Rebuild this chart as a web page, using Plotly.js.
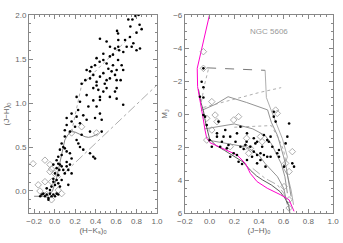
<!DOCTYPE html>
<html><head><meta charset="utf-8">
<script src="https://cdn.plot.ly/plotly-3.0.1.min.js"></script>
<style>html,body{margin:0;padding:0;background:#fff}#c{width:343px;height:243px}</style>
</head><body><div id="c"></div>
<script>
// ---- Left panel: (H-Ks)0 vs (J-H)0 ----
const ccStarsX = [0.79,0.82,0.76,0.83,0.85,0.80,0.61,0.62,0.72,0.74,
0.622,0.622,0.63,0.508,0.541,0.443,0.59,0.769,0.753,0.704,0.688,0.736,0.671,0.80,0.834,
0.41,0.44,0.476,0.508,0.54,0.57,0.62,0.655,0.36,0.395,0.525,0.606,0.67,0.57,0.476,
0.313,0.346,0.378,0.443,0.476,0.508,0.54,0.59,0.606,0.41,0.49,0.30,0.41,0.557,0.346,0.645,
0.264,0.378,0.427,0.476,0.508,0.606,0.59,0.443,0.313,0.215,0.378,0.54,0.606,0.248,0.443,
0.33,0.41,0.67,0.23,0.166,0.28,0.443,0.215,0.118,0.313,0.395,
0.166,0.118,0.248,0.46,0.10,0.15,0.20,0.10,0.215,0.264,0.346,0.46,
0.069,0.085,0.052,0.10,0.118,0.069,0.036,0.248,0.28,0.346,0.378,0.395,0.232,0.15,0.166,
0.02,0.036,0.052,0.069,0.02,0.046,0.085,0.118,0.134,0.15,0.10,0.004,0.036,0.166,-0.012,0.118,
-0.012,0.02,0.036,0.004,-0.03,0.052,0.134,-0.077,-0.045,0.069,-0.012,
-0.11,-0.094,-0.077,-0.06,-0.045,-0.03,-0.012,0.004,0.02,0.036,-0.126,-0.14,-0.06];
const ccStarsY = [1.99,2.0,1.95,1.89,1.84,1.80,1.82,1.79,1.95,1.87,
1.716,1.64,1.60,1.70,1.64,1.73,1.62,1.68,1.64,1.64,1.716,1.75,1.58,1.60,1.62,
1.51,1.47,1.49,1.45,1.53,1.43,1.49,1.43,1.41,1.43,1.39,1.375,1.375,1.55,1.56,
1.375,1.36,1.32,1.30,1.34,1.26,1.28,1.32,1.26,1.24,1.22,1.26,1.20,1.36,1.28,1.26,
1.22,1.17,1.15,1.13,1.17,1.17,1.13,1.07,1.09,1.07,1.03,1.07,1.05,1.015,1.035,
0.96,0.96,0.98,0.92,0.88,0.86,0.88,0.845,0.83,0.81,0.83,
0.79,0.75,0.77,0.81,0.69,0.675,0.73,0.62,0.58,0.64,0.675,0.675,
0.54,0.50,0.47,0.485,0.45,0.41,0.39,0.50,0.47,0.43,0.39,0.37,0.54,0.43,0.37,
0.35,0.31,0.30,0.28,0.26,0.24,0.24,0.28,0.24,0.30,0.20,0.20,0.18,0.20,0.30,0.33,
0.14,0.125,0.087,0.068,0.05,0.05,0.07,0.03,0.01,0.125,0.106,
-0.03,-0.06,-0.04,-0.08,-0.03,-0.06,-0.04,-0.06,-0.03,-0.04,-0.04,-0.06,-0.10];
const ccDiamX = [-0.21,-0.094,-0.045,-0.045,-0.16,-0.094,-0.03,-0.143,-0.077,0.036,0.069,-0.03,0.41,0.264,0.166,-0.03,0.0];
const ccDiamY = [0.31,0.35,0.30,0.22,0.07,0.106,0.106,0.0,-0.04,0.01,-0.03,-0.10,0.66,0.73,0.66,0.25,0.20];
const ccIsoX = [-0.20,-0.12,-0.06,-0.02,0.02,0.05,0.08,0.10,0.13,0.166,0.20,0.23,0.26,0.297,0.33,0.362,0.40,0.427];
const ccIsoY = [-0.06,-0.06,-0.05,0.0,0.15,0.30,0.45,0.58,0.64,0.674,0.67,0.655,0.635,0.617,0.61,0.617,0.635,0.655];
const ccRedGX = [0.166,0.264,0.769];   // dotted reddening line (giants)
const ccRedGY = [0.674,1.205,1.79];
const ccRedDX = [-0.045,1.0];          // dash-dot reddening line
const ccRedDY = [0.05,1.205];

// ---- Right panel: (J-H)0 vs M_J ----
const cmdStarsX = [-0.064,-0.05,-0.078,-0.05,-0.05,-0.037,0.072,0.127,0.222,0.25,0.06,0.0,0.167,0.21,0.25,0.29,0.30,0.276,0.33,0.371,
0.358,0.385,0.412,0.44,0.467,0.344,0.412,0.303,0.235,0.263,0.385,0.453,0.494,0.508,0.467,0.44,0.494,0.48,0.548,0.562,
0.535,0.52,0.52,0.644,0.63,0.616,0.67,0.684,0.018,0.086,0.14,0.153,0.195,0.222,0.167,0.303,0.358,0.385,0.426,0.113,
0.10,0.06,-0.023,-0.05,0.562,0.603];
const cmdStarsY = [-1.96,-1.62,-1.05,-1.0,0.06,0.16,0.46,0.97,1.17,0.77,1.37,1.58,1.37,1.68,1.98,1.88,1.68,2.12,1.98,1.78,
2.28,2.48,2.38,2.48,2.59,2.59,2.79,2.79,2.89,3.03,2.99,3.19,2.59,1.98,1.58,1.27,1.37,1.68,2.38,2.18,
0.46,0.16,-0.14,0.57,1.37,1.78,2.99,3.19,1.98,1.98,2.08,1.88,2.38,2.48,2.59,1.17,1.47,1.68,1.98,1.37,
1.68,1.17,0.67,-2.77,2.59,3.19];
const cmdDiamX = [-0.05,-0.05,0.018,-0.023,0.045,0.06,0.195,0.235,0.30,0.412,0.167,0.29,0.426,0.317,0.33,0.535,0.548,0.67,0.616,0.644,0.603,0.644,0.644,-0.023,0.018];
const cmdDiamY = [-3.78,-2.77,-0.75,0.26,0.06,0.46,0.36,0.16,1.47,1.37,1.98,1.98,1.68,2.38,2.08,-0.24,-0.04,2.28,2.99,3.49,4.4,5.2,5.7,1.58,0.97];
const zamsX = [-0.001,-0.023,-0.05,-0.078,-0.10,-0.097,-0.078,-0.056,-0.05,-0.037,-0.023,0.004,0.072,0.222,0.29,0.33,0.385,0.467,0.576,0.644,0.684];
const zamsY = [-6,-5.29,-4.48,-3.58,-2.77,-1.66,-0.85,-0.14,0.36,0.97,1.47,1.74,1.98,2.48,2.99,3.6,4.1,4.5,4.9,5.2,5.9];
const isoMainX = [-0.09,-0.07,-0.05,-0.03,0.0,0.05,0.12,0.2,0.27,0.33,0.38,0.43,0.5,0.57,0.61,0.64,0.65];
const isoMainY = [-1.5,-0.7,-0.2,0.6,1.5,1.9,2.2,2.55,2.9,3.4,3.75,4.0,4.3,4.7,5.1,5.5,6.0];
const iso1aX = [-0.02,0.45];  const iso1aY = [-2.8,-2.65];
const iso1bX = [0.45,0.46,0.5,0.55,0.59,0.63,0.61,0.6,0.63,0.66,0.68];
const iso1bY = [-2.65,-1.0,-0.2,0.7,1.5,2.6,3.0,3.3,3.7,4.6,5.5];
const iso2X = [-0.01,-0.04,-0.07]; const iso2Y = [-2.7,-1.8,-0.6];
const iso3X = [-0.07,0.05,0.15,0.3,0.47,0.5,0.55,0.58,0.6,0.62,0.64,0.66];
const iso3Y = [-0.2,-0.6,-1.05,-0.7,-0.25,0.5,1.3,2.0,2.6,3.2,4.0,5.0];
const iso4X = [-0.05,0.1,0.25,0.4,0.58]; const iso4Y = [-0.4,-0.7,-1.0,-1.3,-1.6];
const iso5X = [0.2,0.35,0.5,0.56,0.6,0.62]; const iso5Y = [0.8,0.75,0.7,1.5,2.2,3.0];
const iso6X = [-0.04,0.05,0.2,0.35,0.45,0.5,0.55,0.58,0.61,0.63];
const iso6Y = [0.9,0.8,0.6,0.9,1.3,1.8,2.5,3.0,3.8,4.8];
const iso7X = [0.0,0.15,0.3,0.4,0.45,0.5,0.55,0.6,0.63]; const iso7Y = [1.6,1.8,2.0,2.5,3.0,3.4,3.8,4.5,5.5];
const iso8X = [0.35,0.45,0.55,0.6,0.64]; const iso8Y = [3.3,3.9,4.3,4.8,5.6];

const G = '#999';
function ln(x,y,xa,ya,color,dash,w){return {x:x,y:y,xaxis:xa,yaxis:ya,mode:'lines',type:'scatter',line:{color:color,dash:dash,width:w||0.8},hoverinfo:'skip',showlegend:false};}
function pts(x,y,xa,ya,sym,color,size,lw){return {x:x,y:y,xaxis:xa,yaxis:ya,mode:'markers',type:'scatter',marker:{symbol:sym,color:color,size:size,line:{color:color,width:lw}},showlegend:false};}

const data = [
 ln(ccRedDX,ccRedDY,'x','y',G,'dashdot'),
 ln(ccRedGX,ccRedGY,'x','y',G,'dot'),
 ln(ccIsoX,ccIsoY,'x','y','#666','solid'),
 pts(ccDiamX,ccDiamY,'x','y','diamond-open',G,5,0.8),
 pts(ccStarsX,ccStarsY,'x','y','circle','#000',2.6,0),
 ln(iso1aX,iso1aY,'x2','y2','#555','dash'),
 ln(iso1bX,iso1bY,'x2','y2',G,'solid'),
 ln(iso2X,iso2Y,'x2','y2',G,'dot'),
 ln(iso3X,iso3Y,'x2','y2','#777','solid'),
 ln(iso4X,iso4Y,'x2','y2',G,'dot'),
 ln(iso5X,iso5Y,'x2','y2',G,'dot'),
 ln(iso6X,iso6Y,'x2','y2','#777','solid'),
 ln(iso7X,iso7Y,'x2','y2','#777','solid'),
 ln(iso8X,iso8Y,'x2','y2',G,'dashdot'),
 ln(isoMainX,isoMainY,'x2','y2','#333','solid'),
 ln(zamsX,zamsY,'x2','y2','#ff00cc','solid',1),
 pts(cmdDiamX,cmdDiamY,'x2','y2','diamond-open',G,5,0.8),
 pts(cmdStarsX,cmdStarsY,'x2','y2','circle','#000',2.6,0)
];

const tf = {family:'Liberation Sans, Arial, sans-serif', size:8, color:'#666'};
function mk(o){return Object.assign({showline:true,linecolor:'#888',linewidth:1,mirror:'ticks',ticks:'inside',ticklen:4,tickcolor:'#888',
  showgrid:false,zeroline:false,tickfont:tf},o);}

const layout = {
 width:343,height:243,margin:{l:0,r:0,t:0,b:0},paper_bgcolor:'#fff',plot_bgcolor:'#fff',showlegend:false,
 xaxis: mk({domain:[0.0845,0.4577],range:[-0.25,1.0],dtick:0.2,tick0:0,tickformat:'.1f',minor:{ticks:'inside',ticklen:2,tickcolor:'#888',dtick:0.05},
   title:{text:'(H−K<sub>s</sub>)<sub>0</sub>',font:tf,standoff:2},anchor:'y'}),
 yaxis: mk({domain:[0.1235,0.938],range:[-0.25,2.0],dtick:0.5,tick0:0,tickformat:'.1f',minor:{ticks:'inside',ticklen:2,tickcolor:'#888',dtick:0.1},
   title:{text:'(J−H)<sub>0</sub>',font:tf,standoff:4},anchor:'x'}),
 xaxis2: mk({domain:[0.539,0.971],range:[-0.2,1.0],dtick:0.2,tick0:0,tickformat:'.1f',minor:{ticks:'inside',ticklen:2,tickcolor:'#888',dtick:0.05},
   title:{text:'(J−H)<sub>0</sub>',font:tf,standoff:2},anchor:'y2'}),
 yaxis2: mk({domain:[0.1235,0.938],range:[6,-6],dtick:2,tick0:0,minor:{ticks:'inside',ticklen:2,tickcolor:'#888',dtick:0.5},
   title:{text:'M<sub>J</sub>',font:tf,standoff:4},anchor:'x2'}),
 annotations:[{text:'NGC 5606',xref:'paper',yref:'paper',x:0.845,y:0.897,showarrow:false,font:{family:'Liberation Sans, Arial, sans-serif',size:8,color:'#999'}}]
};
Plotly.newPlot('c',data,layout,{staticPlot:true,displayModeBar:false});
</script></body></html>
